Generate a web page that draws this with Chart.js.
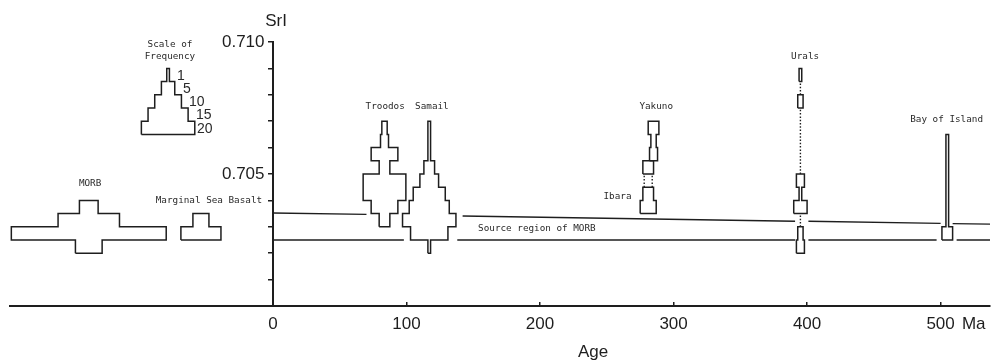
<!DOCTYPE html>
<html><head><meta charset="utf-8">
<script src="https://cdn.jsdelivr.net/npm/chart.js@4.4.0/dist/chart.umd.min.js"></script>
<style>html,body{margin:0;padding:0;background:#fff;}#wrap{width:992px;height:362px;position:relative;}</style>
</head><body><div id="wrap"><canvas id="c" width="992" height="362"></canvas></div>
<script>
// ---------------- data ----------------
// Each histogram: SrI bin edges + frequency per bin (0 = gap, drawn dotted)
const morbEdges = [0.7020, 0.7025, 0.7030, 0.7035, 0.7040];
const morbCounts = [10, 58, 23, 7];
const marginalEdges = [0.7025, 0.7030, 0.7035];
const marginalCounts = [15, 6];
const troodosEdges = [0.7030, 0.7035, 0.7040, 0.7045, 0.7050, 0.7055, 0.7060, 0.7065, 0.7070];
const troodosCounts = [4, 10, 16, 16, 4, 10, 3, 2];
const samailEdges = [0.7020, 0.7025, 0.7030, 0.7035, 0.7040, 0.7045, 0.7050, 0.7055, 0.7060, 0.7065, 0.7070];
const samailCounts = [1, 14, 20, 15, 12, 7, 4, 1, 1, 1];
const yakunoEdges = [0.7055, 0.7060, 0.7065, 0.7070];
const yakunoCounts = [3, 2, 4];
const ibaraEdges = [0.7035, 0.7040, 0.7045, 0.7050, 0.7055];
const ibaraCounts = [6, 4, 3, 4];
const ibaraDottedBins = [2];
const uralsEdges = [0.7020, 0.7025, 0.7030, 0.7035, 0.7040, 0.7045, 0.7050, 0.7055, 0.7060, 0.7065, 0.7070, 0.7075, 0.7080, 0.7085, 0.7090];
const uralsCounts = [3, 2, 0, 5, 1, 3, 0, 0, 0, 0, 0, 2, 0, 1];
const bayEdges = [0.7025, 0.7030, 0.7035, 0.7040, 0.7045, 0.7050, 0.7055, 0.7060, 0.7065];
const bayCounts = [4, 1, 1, 1, 1, 1, 1, 1];
const scaleEdges = [0.7065, 0.7070, 0.7075, 0.7080, 0.7085, 0.7090];
const scaleCounts = [20, 15, 10, 5, 1];
const scaleLabels = ['20', '15', '10', '5', '1'];

// Age (Ma) of each suite
const troodosAge = 83.5, samailAge = 117, yakunoAge = 285, ibaraAge = 281, uralsAge = 395, bayAge = 505;

// Source region of MORB: two boundary lines (segment end points, age / SrI)
const upperLineAge = [0, 70, 142, 391, 401, 500, 509, 537];
const upperLineSrI = [0.70352, 0.70347, 0.70341, 0.70321, 0.70321, 0.70313, 0.70312, 0.70310];
const lowerLineAge = [0, 98, 138, 391, 401, 497, 512, 537];
const lowerLineSrI = [0.7025, 0.7025, 0.7025, 0.7025, 0.7025, 0.7025, 0.7025, 0.7025];

// Axis ticks
const xTickValues = [0, 100, 200, 300, 400, 500];
const xTickLabels = ['0', '100', '200', '300', '400', '500'];
const yTickValues = [0.700, 0.701, 0.702, 0.703, 0.704, 0.705, 0.706, 0.707, 0.708, 0.709, 0.710];
const yTickLabels = ['', '', '', '', '', '0.705', '', '', '', '', '0.710'];

// ---------------- layout / style constants ----------------
const WIDTH_PER_COUNT = 2.0;          // Ma of width per unit frequency
const MORB_X = -138, MARGINAL_X = -54, SCALE_X = -78.6;   // placement left of the axis
const INK = '#1e1e1e';

function histShapes(center, edges, counts, dotted) {
  dotted = dotted || [];
  const shapes = [];
  const n = counts.length;
  const hw = k => counts[k] * WIDTH_PER_COUNT / 2;
  let i = 0;
  while (i < n) {
    if (counts[i] > 0 && !dotted.includes(i)) {
      let j = i;
      while (j < n && counts[j] > 0 && !dotted.includes(j)) j++;
      const pts = [{x: center - hw(i), y: edges[i]}];
      for (let k = i; k < j; k++) { pts.push({x: center + hw(k), y: edges[k]}); pts.push({x: center + hw(k), y: edges[k + 1]}); }
      for (let k = j - 1; k >= i; k--) { pts.push({x: center - hw(k), y: edges[k + 1]}); pts.push({x: center - hw(k), y: edges[k]}); }
      shapes.push({pts, dashed: false});
      i = j;
    } else if (counts[i] === 0) {
      let j = i;
      while (j < n && counts[j] === 0) j++;
      shapes.push({pts: [{x: center, y: edges[i]}, {x: center, y: edges[j]}], dashed: true});
      i = j;
    } else {
      shapes.push({pts: [{x: center - hw(i), y: edges[i]}, {x: center - hw(i), y: edges[i + 1]}], dashed: true});
      shapes.push({pts: [{x: center + hw(i), y: edges[i]}, {x: center + hw(i), y: edges[i + 1]}], dashed: true});
      i++;
    }
  }
  return shapes;
}

const datasets = [];
function addShapes(shapes) {
  shapes.forEach(s => datasets.push({
    data: s.pts, borderColor: INK, borderWidth: s.dashed ? 1.4 : 1.5,
    borderDash: s.dashed ? [1.5, 1.8] : [], pointRadius: 0, fill: false, tension: 0,
    borderJoinStyle: 'miter', clip: false
  }));
}
addShapes(histShapes(MORB_X, morbEdges, morbCounts));
addShapes(histShapes(MARGINAL_X, marginalEdges, marginalCounts));
addShapes(histShapes(SCALE_X, scaleEdges, scaleCounts));
addShapes(histShapes(troodosAge, troodosEdges, troodosCounts));
addShapes(histShapes(samailAge, samailEdges, samailCounts));
addShapes(histShapes(yakunoAge, yakunoEdges, yakunoCounts));
addShapes(histShapes(ibaraAge, ibaraEdges, ibaraCounts, ibaraDottedBins));
addShapes(histShapes(uralsAge, uralsEdges, uralsCounts));
addShapes(histShapes(bayAge, bayEdges, bayCounts));
function addSegments(ages, srs) {
  for (let k = 0; k < ages.length; k += 2) {
    datasets.push({data: [{x: ages[k], y: srs[k]}, {x: ages[k + 1], y: srs[k + 1]}],
      borderColor: INK, borderWidth: 1.4, pointRadius: 0, fill: false, tension: 0, clip: false});
  }
}
addSegments(upperLineAge, upperLineSrI);
addSegments(lowerLineAge, lowerLineSrI);

// text annotations (positions in data units)
const notes = [
  {t: 'Troodos', x: 84, y: 0.70754}, {t: 'Samail', x: 119, y: 0.70754},
  {t: 'Yakuno', x: 287, y: 0.70754}, {t: 'Ibara', x: 258, y: 0.70413},
  {t: 'Urals', x: 398.5, y: 0.70943}, {t: 'Bay of Island', x: 504.5, y: 0.70708},
  {t: 'MORB', x: -137, y: 0.70462}, {t: 'Marginal Sea Basalt', x: -48, y: 0.70398},
  {t: 'Scale of', x: -77.2, y: 0.70989}, {t: 'Frequency', x: -77.2, y: 0.70943}
];
const freqLabelX = [-56.9, -57.7, -62.9, -67.4, -71.9];

const textPlugin = {
  id: 'texts',
  afterDraw(chart) {
    const {ctx, scales: {x, y}} = chart;
    ctx.save();
    ctx.fillStyle = '#2a2a2a';
    ctx.textBaseline = 'middle';
    ctx.font = '9.3px "DejaVu Sans Mono"';
    ctx.textAlign = 'center';
    notes.forEach(n => ctx.fillText(n.t, x.getPixelForValue(n.x), y.getPixelForValue(n.y)));
    ctx.textAlign = 'left';
    ctx.fillText('Source region of MORB', x.getPixelForValue(153.6), y.getPixelForValue(0.70292));
    ctx.font = '14px "Liberation Sans"';
    scaleLabels.forEach((s, k) => {
      const yc = (scaleEdges[k] + scaleEdges[k + 1]) / 2;
      ctx.fillText(s, x.getPixelForValue(freqLabelX[k]), y.getPixelForValue(yc) + 1);
    });
    ctx.fillStyle = '#1e1e1e';
    ctx.font = '17px "Liberation Sans"';
    ctx.textAlign = 'center';
    ctx.fillText('SrI', x.getPixelForValue(2.3), y.top - 21);
    ctx.fillText('Age', x.getPixelForValue(239.7), y.bottom + 46);
    ctx.textAlign = 'left';
    ctx.fillText('Ma', x.getPixelForValue(516), y.bottom + 18);
    ctx.restore();
  }
};

new Chart(document.getElementById('c'), {
  type: 'line',
  data: {datasets},
  options: {
    responsive: false, animation: false, events: [],
    layout: {padding: {left: 10, right: 2, top: 42, bottom: 26}},
    plugins: {legend: {display: false}, tooltip: {enabled: false}},
    scales: {
      x: {
        type: 'linear', min: -197, max: 537, position: 'bottom',
        afterBuildTicks: s => { s.ticks = xTickValues.map(v => ({value: v})); },
        afterFit: s => { s.height = 30; },
        ticks: {callback: (v, i) => xTickLabels[i], font: {family: 'Liberation Sans', size: 17}, color: '#1e1e1e', padding: 12, maxRotation: 0, autoSkip: false},
        grid: {drawOnChartArea: false, tickLength: -4, color: INK, lineWidth: 1.5},
        border: {color: INK, width: 2}
      },
      y: {
        type: 'linear', min: 0.700, max: 0.710, position: {x: 0},
        afterBuildTicks: s => { s.ticks = yTickValues.map(v => ({value: v})); },
        ticks: {callback: (v, i) => yTickLabels[i] ? yTickLabels[i] + '\u2002' : '', font: {family: 'Liberation Sans', size: 17}, color: '#1e1e1e', padding: 5, autoSkip: false},
        grid: {drawOnChartArea: false, tickLength: 4, color: INK, lineWidth: 1.5},
        border: {color: INK, width: 2}
      }
    }
  },
  plugins: [textPlugin]
});
</script></body></html>
